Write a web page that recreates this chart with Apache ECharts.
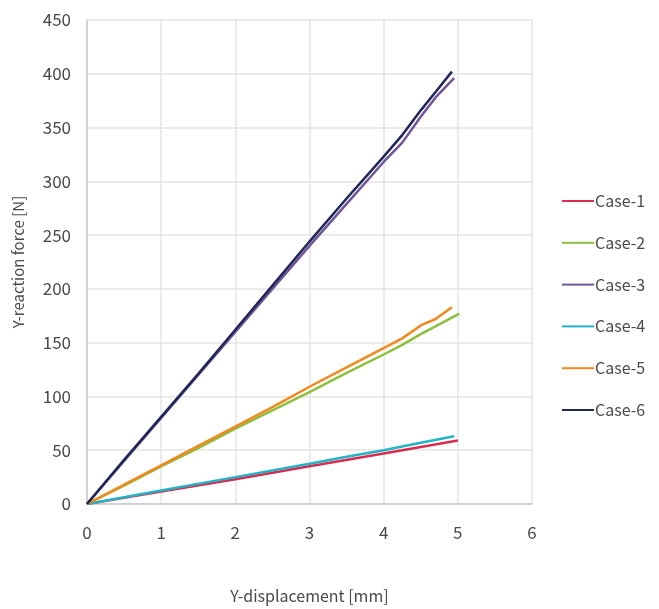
<!DOCTYPE html>
<html>
<head>
<meta charset="utf-8">
<script src="https://cdn.jsdelivr.net/npm/echarts@6/dist/echarts.min.js"></script>
<style>
  html, body { margin: 0; padding: 0; background: #fff; }
  #chart { width: 659px; height: 609px; }
</style>
</head>
<body>
<div id="chart"></div>
<script>
// displacement [mm] / force [N]
let case1X = [0, 1, 2, 3, 4, 4.5, 5.0];
let case1Y = [0, 11.5, 23, 35, 47, 53, 59];
let case2X = [0, 0.5, 1, 1.5, 2, 2.5, 3, 3.5, 4, 4.25, 4.5, 4.75, 5.02];
let case2Y = [0, 17, 35, 52, 70, 87, 104, 122, 139, 148, 158, 167, 177];
let case3X = [0, 0.5, 1, 1.5, 2, 2.5, 3, 3.5, 4, 4.25, 4.5, 4.7, 4.95];
let case3Y = [0, 40, 80, 120, 160, 200, 240, 279, 318, 336, 360, 378, 396];
let case4X = [0, 1, 2, 3, 3.5, 4, 4.5, 4.95];
let case4Y = [0, 12.5, 25, 37.5, 44, 50, 57, 63];
let case5X = [0, 0.5, 1, 1.5, 2, 2.5, 3, 3.5, 4, 4.25, 4.5, 4.7, 4.92];
let case5Y = [0, 18, 36, 54, 72, 90, 109, 127, 145, 154, 166, 172, 183];
let case6X = [0, 0.5, 1, 1.5, 2, 2.5, 3, 3.5, 4, 4.25, 4.5, 4.7, 4.92];
let case6Y = [0, 41, 81, 121, 162, 203, 244, 284, 323, 343, 366, 383, 402];

let caseNames = ['Case-1', 'Case-2', 'Case-3', 'Case-4', 'Case-5', 'Case-6'];
let caseColors = ['#d92b4f', '#8dbf3f', '#6f5699', '#22b4c4', '#f2891e', '#1f2757'];
let caseX = [case1X, case2X, case3X, case4X, case5X, case6X];
let caseY = [case1Y, case2Y, case3Y, case4Y, case5Y, case6Y];

let xTicks = [0, 6, 1];     // min, max, interval
let yTicks = [0, 450, 50];

function pairUp(xs, ys) {
    let out = [];
    for (let i = 0; i < xs.length; i++) {
        out.push([xs[i], ys[i]]);
    }
    return out;
}

let font = '"Noto Sans CJK KR", "Noto Sans", sans-serif';
let textColor = '#4a4a4a';

let series = caseNames.map(function (name, i) {
    return {
        name: name,
        type: 'line',
        data: pairUp(caseX[i], caseY[i]),
        showSymbol: false,
        smooth: false,
        lineStyle: { width: 2.5, color: caseColors[i] },
        itemStyle: { color: caseColors[i] }
    };
});

let chart = echarts.init(document.getElementById('chart'));
chart.setOption({
    animation: false,
    backgroundColor: '#fff',
    grid: { left: 87, right: 127, top: 20, bottom: 102 },
    legend: {
        orient: 'vertical',
        left: 557,
        top: 188,
        itemWidth: 32,
        itemHeight: 20,
        itemGap: 25.8,
        icon: 'path://M0,9 L32,9 L32,11 L0,11 Z',
        textStyle: { fontFamily: font, fontSize: 16, color: textColor, padding: [0, 0, 0, -4] },
        data: caseNames
    },
    xAxis: {
        type: 'value',
        min: xTicks[0],
        max: xTicks[1],
        interval: xTicks[2],
        name: 'Y-displacement [mm]',
        nameLocation: 'middle',
        nameGap: 84,
        nameTextStyle: { fontFamily: font, fontSize: 16, color: textColor },
        axisLine: { show: true, lineStyle: { color: '#c8c8c8', width: 1.5 } },
        axisTick: { show: false },
        axisLabel: { fontFamily: font, fontSize: 17, color: textColor, margin: 20 },
        splitLine: { show: true, lineStyle: { color: '#e4e4e4', width: 1.5 } }
    },
    yAxis: {
        type: 'value',
        min: yTicks[0],
        max: yTicks[1],
        interval: yTicks[2],
        name: 'Y-reaction force [N]',
        nameLocation: 'middle',
        nameGap: 61,
        nameTextStyle: { fontFamily: font, fontSize: 15, color: textColor },
        axisLine: { show: true, lineStyle: { color: '#c8c8c8', width: 1.5 } },
        axisTick: { show: false },
        axisLabel: { fontFamily: font, fontSize: 17, color: textColor, margin: 16 },
        splitLine: { show: true, lineStyle: { color: '#e4e4e4', width: 1.5 } }
    },
    series: series
});
</script>
</body>
</html>
